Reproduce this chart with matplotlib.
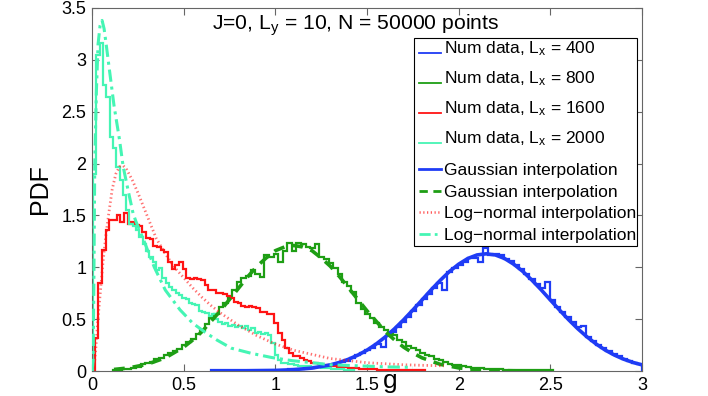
import numpy as np
import matplotlib
matplotlib.use("Agg")
import matplotlib.pyplot as plt
from matplotlib.lines import Line2D
from matplotlib.patches import Rectangle

plt.rcParams['font.family'] = ['Liberation Sans', 'DejaVu Sans']
plt.rcParams['mathtext.default'] = 'regular'

# histogram data (bin start, bin width, pdf values)
blue_start, blue_width = 0.65, 0.028
blue_pdf = [0.005, 0.005, 0.005, 0.005, 0.005, 0.005, 0.01, 0.005, 0.01, 0.01,
            0.01, 0.01, 0.01, 0.01, 0.01, 0.015, 0.02, 0.02, 0.03, 0.03,
            0.04, 0.04, 0.05, 0.06, 0.07, 0.09, 0.10, 0.13, 0.15, 0.17,
            0.20, 0.22, 0.26, 0.23, 0.34, 0.38, 0.42, 0.47, 0.52, 0.58,
            0.64, 0.69, 0.74, 0.80, 0.85, 0.78, 0.95, 0.99, 1.02, 1.05,
            1.09, 1.09, 1.05, 1.19, 1.12, 1.13, 1.12, 1.08, 1.06, 1.02,
            0.98, 0.94, 0.89, 0.84, 0.80, 0.86, 0.68, 0.62, 0.57, 0.52,
            0.47, 0.42, 0.43, 0.33, 0.29, 0.25, 0.22, 0.19, 0.16, 0.14,
            0.12, 0.10, 0.08, 0.07]

green_start, green_width = 0.115, 0.025
green_pdf = [0.01, 0.01, 0.02, 0.02, 0.03, 0.04, 0.07, 0.08, 0.09, 0.12,
             0.13, 0.15, 0.17, 0.19, 0.21, 0.25, 0.28, 0.31, 0.36, 0.40,
             0.45, 0.51, 0.55, 0.62, 0.66, 0.71, 0.78, 0.86, 0.90, 0.92,
             0.97, 0.94, 0.91, 1.12, 1.10, 1.13, 1.05, 1.16, 1.23, 1.16,
             1.23, 1.22, 1.20, 1.19, 1.22, 1.10, 1.08, 1.04, 0.99, 0.94,
             0.86, 0.82, 0.76, 0.66, 0.60, 0.55, 0.51, 0.46, 0.42, 0.40,
             0.36, 0.35, 0.30, 0.28, 0.24, 0.22, 0.20, 0.17, 0.15, 0.14,
             0.12, 0.11, 0.09, 0.07, 0.06, 0.06, 0.05, 0.04, 0.03, 0.03,
             0.03, 0.02, 0.02, 0.02, 0.02, 0.01, 0.01, 0.01, 0.01, 0.01,
             0.01, 0.005, 0.005, 0.005, 0.005, 0.005]

red_start, red_width = 0.015, 0.02
red_pdf = [0.32, 0.85, 1.17, 1.36, 1.46, 1.46, 1.50, 1.44, 1.52, 1.42,
           1.44, 1.41, 1.40, 1.34, 1.28, 1.27, 1.21, 1.20, 1.17, 1.15,
           1.05, 0.98, 1.02, 1.05, 0.98, 0.90, 0.89, 0.90, 0.89, 0.88,
           0.83, 0.78, 0.78, 0.75, 0.75, 0.74, 0.72, 0.70, 0.67, 0.66,
           0.63, 0.62, 0.63, 0.62, 0.61, 0.57, 0.57, 0.55, 0.55, 0.46,
           0.37, 0.30, 0.22, 0.17, 0.14, 0.14, 0.13, 0.11, 0.10, 0.08,
           0.08, 0.07, 0.06, 0.06, 0.05, 0.05, 0.04, 0.04, 0.04, 0.03,
           0.03, 0.03, 0.02, 0.02, 0.02, 0.02, 0.02, 0.01, 0.01, 0.01,
           0.01, 0.01, 0.01, 0.01, 0.01, 0.01, 0.01, 0.01, 0.005, 0.005]

cyan_start, cyan_width = 0.006, 0.018
cyan_pdf = [1.90, 3.05, 3.16, 2.76, 2.64, 2.26, 2.15, 1.97, 1.84, 1.70,
            1.55, 1.42, 1.40, 1.36, 1.29, 1.22, 1.16, 1.10, 1.05, 0.97,
            0.99, 0.90, 0.85, 0.81, 0.78, 0.75, 0.73, 0.70, 0.69, 0.66,
            0.65, 0.64, 0.58, 0.57, 0.56, 0.53, 0.55, 0.50, 0.47, 0.45,
            0.46, 0.43, 0.44, 0.42, 0.43, 0.41, 0.43, 0.40, 0.41, 0.37,
            0.38, 0.36, 0.37, 0.35, 0.27, 0.15, 0.11, 0.08, 0.08, 0.07,
            0.07, 0.06, 0.05, 0.05, 0.05, 0.05, 0.04, 0.04, 0.04, 0.03,
            0.03, 0.03, 0.02, 0.02, 0.02, 0.02, 0.01, 0.01, 0.01]

# fitted curves, sampled off the figure
blue_fit_g = [0.66, 0.8, 1.0, 1.1, 1.2, 1.3, 1.35, 1.4, 1.45, 1.5, 1.55, 1.6, 1.65,
              1.7, 1.75, 1.8, 1.85, 1.9, 1.95, 2.0, 2.05, 2.1, 2.15, 2.2, 2.25,
              2.3, 2.35, 2.4, 2.45, 2.5, 2.55, 2.6, 2.65, 2.7, 2.75, 2.8, 2.85,
              2.9, 2.95, 3.0]
blue_fit_v = [0.0, 0.001, 0.005, 0.013, 0.028, 0.059, 0.083, 0.114, 0.153, 0.201,
              0.26, 0.329, 0.407, 0.494, 0.588, 0.685, 0.783, 0.875, 0.96, 1.03,
              1.085, 1.119, 1.13, 1.119, 1.085, 1.03, 0.96, 0.875, 0.783, 0.685,
              0.588, 0.494, 0.407, 0.329, 0.26, 0.201, 0.153, 0.114, 0.083, 0.059]

green_fit_g = [0.12, 0.2, 0.3, 0.4, 0.5, 0.55, 0.6, 0.65, 0.7, 0.75, 0.8, 0.85,
               0.9, 0.95, 1.0, 1.05, 1.1, 1.15, 1.2, 1.25, 1.3, 1.35, 1.4, 1.45,
               1.5, 1.55, 1.6, 1.65, 1.7, 1.75, 1.8, 1.9, 2.0, 2.1, 2.2, 2.3, 2.5]
green_fit_v = [0.015, 0.03, 0.064, 0.127, 0.23, 0.30, 0.38, 0.48, 0.58, 0.69, 0.80,
               0.91, 1.01, 1.09, 1.16, 1.196, 1.21, 1.196, 1.16, 1.09, 1.01, 0.91,
               0.80, 0.69, 0.58, 0.48, 0.38, 0.30, 0.23, 0.174, 0.127, 0.064, 0.03,
               0.012, 0.005, 0.002, 0.0]

red_fit_g = [0.0, 0.01, 0.02, 0.03, 0.045, 0.06, 0.075, 0.09, 0.11, 0.13, 0.15,
             0.17, 0.19, 0.22, 0.25, 0.3, 0.35, 0.4, 0.45, 0.5, 0.55, 0.6, 0.65,
             0.7, 0.8, 0.9, 1.0, 1.1, 1.2, 1.3, 1.4, 1.5, 1.6, 1.7, 1.8, 1.92]
red_fit_v = [0.0, 0.0, 0.2, 0.45, 0.75, 1.05, 1.3, 1.5, 1.75, 1.9, 1.97, 1.98,
             1.94, 1.84, 1.72, 1.5, 1.28, 1.13, 1.0, 0.9, 0.8, 0.71, 0.63, 0.56,
             0.44, 0.34, 0.26, 0.2, 0.16, 0.12, 0.1, 0.08, 0.07, 0.06, 0.055, 0.05]

cyan_fit_g = [0.0, 0.006, 0.01, 0.015, 0.024, 0.033, 0.044, 0.055, 0.066, 0.078,
              0.096, 0.12, 0.15, 0.17, 0.196, 0.224, 0.24, 0.28, 0.34, 0.4, 0.48,
              0.55, 0.62, 0.68, 0.76, 0.87, 0.98, 1.09, 1.2, 1.3, 1.45, 1.6, 1.75]
cyan_fit_v = [0.0, 0.1, 0.8, 2.0, 2.7, 3.15, 3.33, 3.38, 3.3, 3.14, 2.89, 2.56,
              2.23, 1.97, 1.75, 1.52, 1.44, 1.27, 1.0, 0.78, 0.59, 0.46, 0.37,
              0.3, 0.22, 0.17, 0.13, 0.1, 0.08, 0.06, 0.05, 0.04, 0.035]

lx_values = [400, 800, 1600, 2000]

c_blue = '#1f3cf5'
c_green = '#1e9e14'
c_red = '#ff1414'
c_cyan = '#45f5b4'

W, H = 708, 396


def edges(start, width, vals):
    return start + width * np.arange(len(vals) + 1)


fig = plt.figure(figsize=(W / 100, H / 100), dpi=100)
ax = fig.add_axes([92 / W, 1 - 371 / H, 550 / W, 363 / H])

hists = [(blue_start, blue_width, blue_pdf, c_blue),
         (green_start, green_width, green_pdf, c_green),
         (red_start, red_width, red_pdf, c_red),
         (cyan_start, cyan_width, cyan_pdf, c_cyan)]
for start, width, vals, col in hists:
    ax.stairs(vals, edges(start, width, vals), baseline=0, color=col, lw=1.6, zorder=2)

styles = [dict(color=c_blue, lw=2.6),
          dict(color=c_green, lw=2.6, ls=(0, (3, 2.2))),
          dict(color=c_red, lw=2.0, ls=(0, (0.5, 1.0)), alpha=0.6),
          dict(color=c_cyan, lw=2.2, ls=(0, (4, 1.6, 1, 1.6)))]
ax.plot(blue_fit_g, blue_fit_v, zorder=3, **styles[0])
ax.plot(green_fit_g, green_fit_v, zorder=3, **styles[1])
ax.plot(red_fit_g, red_fit_v, zorder=3, **styles[2])
ax.plot(cyan_fit_g, cyan_fit_v, zorder=3, **styles[3])

ax.set_xlim(0, 3)
ax.set_ylim(0, 3.5)
ax.set_xticks(np.arange(0, 3.01, 0.5))
ax.set_yticks(np.arange(0, 3.51, 0.5))
ax.set_xticklabels(['0', '0.5', '1', '1.5', '2', '2.5', '3'])
ax.set_yticklabels(['0', '0.5', '1', '1.5', '2', '2.5', '3', '3.5'])
ax.tick_params(direction='in', length=5, width=0.8, top=True, right=True,
               labelsize=13, color='#666666', pad=4)
for sp in ax.spines.values():
    sp.set_color('#666666')
    sp.set_linewidth(0.8)

ax.text(0.48, (371 - 30) / 363, 'J=0, L$_y$ = 10, N = 50000 points', transform=ax.transAxes,
        ha='center', va='baseline', fontsize=15.2)
ax.text(-0.095, 0.5, 'PDF', transform=ax.transAxes, rotation=90,
        ha='center', va='center', fontsize=18)
ax.text(0.543, -0.028, 'g', transform=ax.transAxes, ha='center', va='center',
        fontsize=19)

# legend drawn by hand so the rows keep the uneven MATLAB spacing
labels = ['Num data, L$_x$ = %d' % lx for lx in lx_values]
labels += ['Gaussian interpolation', 'Gaussian interpolation',
           'Log\u2212normal interpolation', 'Log\u2212normal interpolation']
leg_styles = [dict(color=c, lw=1.3) for c in (c_blue, c_green, c_red, c_cyan)]
leg_styles += [dict(color=c_blue, lw=2),
               dict(color=c_green, lw=2, ls=(0, (3, 2))),
               dict(color=c_red, lw=1.8, ls=(0, (0.5, 1.0)), alpha=0.7),
               dict(color=c_cyan, lw=2, ls=(0, (4, 1.5, 1, 1.5)))]
line_y = [53, 83, 113, 143, 169, 191, 212, 234]
text_y = [53, 83, 113, 143, 175, 197, 218, 240]

fig.add_artist(Rectangle((414 / W, 1 - 246 / H), 223 / W, 208 / H,
                         transform=fig.transFigure, facecolor='white',
                         edgecolor='black', lw=0.8, zorder=5))
for lab, st, ly, ty in zip(labels, leg_styles, line_y, text_y):
    fig.add_artist(Line2D([419 / W, 441 / W], [1 - ly / H, 1 - ly / H],
                          transform=fig.transFigure, zorder=6, **st))
    fig.text(444 / W, 1 - ty / H, lab, ha='left', va='baseline',
             fontsize=12.5, zorder=6)

fig.savefig('out.png', dpi=100)
